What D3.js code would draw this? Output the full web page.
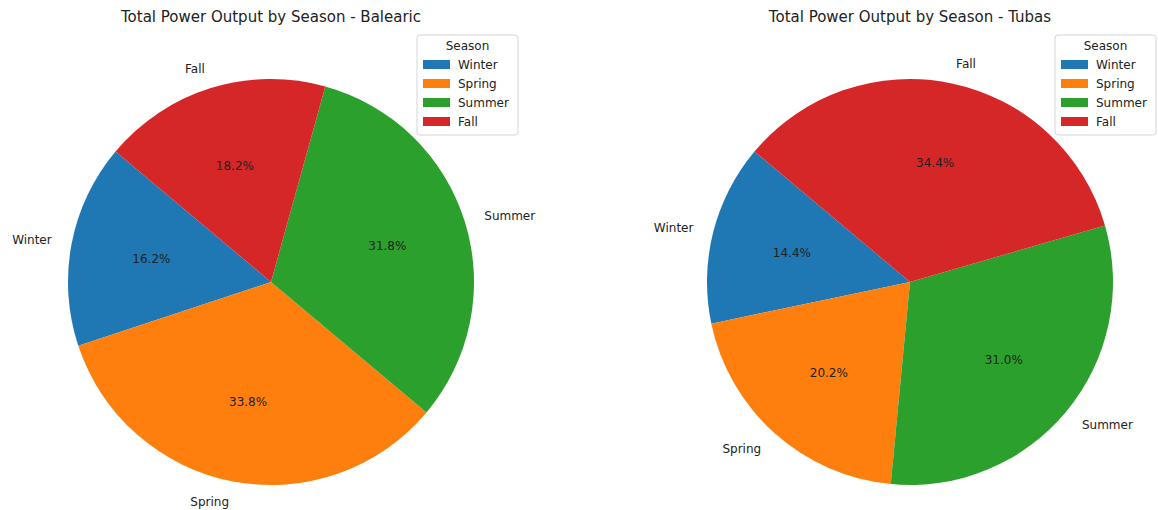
<!DOCTYPE html>
<html>
<head>
<meta charset="utf-8">
<script src="https://cdn.jsdelivr.net/npm/d3@7"></script>
<style>
  body { margin: 0; background: #fff; }
  text { font-family: "DejaVu Sans", sans-serif; fill: #222; }
</style>
</head>
<body>
<svg id="chart" width="1158" height="510"></svg>
<script>
// data
const seasons = ["Winter", "Spring", "Summer", "Fall"];
const balearicShare = [16.2, 33.8, 31.8, 18.2];
const tubasShare = [14.4, 20.2, 31.0, 34.4];
const seasonColors = ["#1f77b4", "#ff7f0e", "#2ca02c", "#d62728"];

const svg = d3.select("#chart");
const color = d3.scaleOrdinal().domain(seasons).range(seasonColors);

const radius = 203;
const startDeg = 140; // matplotlib startangle, counterclockwise

// draw one pie, matplotlib-like
function drawPie(cx, cy, values, title, legendX) {
  const g = svg.append("g").attr("transform", `translate(${cx},${cy})`);
  const data = seasons.map((s, i) => ({ season: s, value: values[i] }));

  // d3 angles go clockwise from 12 o'clock, so run the pie backwards
  const start = (90 - startDeg) * Math.PI / 180;
  const pie = d3.pie().value(d => d.value).sort(null)
    .startAngle(start).endAngle(start - 2 * Math.PI);
  const arcs = pie(data);

  const arc = d3.arc().innerRadius(0).outerRadius(radius);
  g.selectAll("path").data(arcs).enter().append("path")
    .attr("d", arc)
    .attr("fill", d => color(d.data.season));

  const mid = d => (d.startAngle + d.endAngle) / 2;

  // percent labels
  g.selectAll("text.pct").data(arcs).enter().append("text")
    .attr("class", "pct")
    .attr("x", d => Math.sin(mid(d)) * radius * 0.6)
    .attr("y", d => -Math.cos(mid(d)) * radius * 0.6)
    .attr("text-anchor", "middle")
    .attr("dy", "0.35em")
    .style("font-size", "12px")
    .text(d => d.data.value.toFixed(1) + "%");

  // outside labels
  g.selectAll("text.lbl").data(arcs).enter().append("text")
    .attr("class", "lbl")
    .attr("x", d => Math.sin(mid(d)) * radius * 1.1)
    .attr("y", d => -Math.cos(mid(d)) * radius * 1.1)
    .attr("text-anchor", d => Math.sin(mid(d)) < 0 ? "end" : "start")
    .attr("dy", "0.35em")
    .style("font-size", "12px")
    .text(d => d.data.season);

  // title
  svg.append("text")
    .attr("x", cx).attr("y", 22)
    .attr("text-anchor", "middle")
    .style("font-size", "15px")
    .text(title);

  // legend
  const lg = svg.append("g").attr("transform", `translate(${legendX},35)`);
  lg.append("rect")
    .attr("width", 101).attr("height", 100)
    .attr("rx", 3)
    .attr("fill", "#fff").attr("fill-opacity", 0.8)
    .attr("stroke", "#d5d5d5");
  lg.append("text")
    .attr("x", 50.5).attr("y", 15)
    .attr("text-anchor", "middle")
    .style("font-size", "12px")
    .text("Season");
  seasons.forEach((s, i) => {
    lg.append("rect")
      .attr("x", 6).attr("y", 25 + i * 19)
      .attr("width", 27).attr("height", 9)
      .attr("fill", color(s));
    lg.append("text")
      .attr("x", 41).attr("y", 30 + i * 19)
      .attr("dy", "0.35em")
      .style("font-size", "12px")
      .text(s);
  });
}

drawPie(271, 282, balearicShare, "Total Power Output by Season - Balearic", 417);
drawPie(910, 282, tubasShare, "Total Power Output by Season - Tubas", 1055);
</script>
</body>
</html>
